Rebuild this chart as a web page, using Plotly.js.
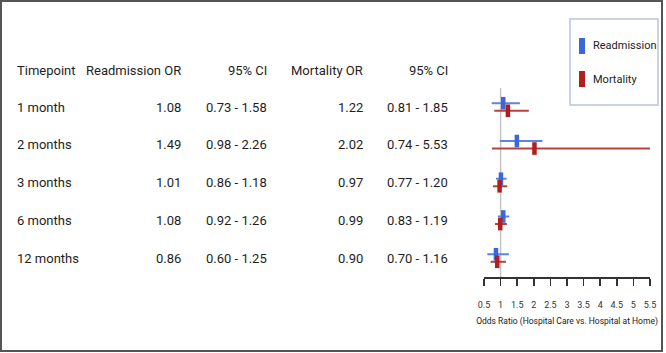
<!DOCTYPE html>
<html>
<head>
<meta charset="utf-8">
<script src="https://cdn.plot.ly/plotly-3.0.1.min.js"></script>
<style>
  html, body { margin: 0; padding: 0; background: #fff; }
  #chart { width: 666px; height: 353px; }
</style>
</head>
<body>
<div id="chart"></div>
<script>
// Odds ratios (hospital care vs. hospital at home) by follow-up timepoint
const timepoints = ['1 month', '2 months', '3 months', '6 months', '12 months'];
const readmOR = [1.08, 1.49, 1.01, 1.08, 0.86];
const readmLo = [0.73, 0.98, 0.86, 0.92, 0.60];
const readmHi = [1.58, 2.26, 1.18, 1.26, 1.25];
const mortOR = [1.22, 2.02, 0.97, 0.99, 0.90];
const mortLo = [0.81, 0.74, 0.77, 0.83, 0.70];
const mortHi = [1.85, 5.53, 1.20, 1.19, 1.16];
const seriesNames = ['Readmission', 'Mortality'];
const tickVals = [0.5, 1, 1.5, 2, 2.5, 3, 3.5, 4, 4.5, 5, 5.5];
const tickText = ['0.5', '1', '1.5', '2', '2.5', '3', '3.5', '4', '4.5', '5', '5.5'];
const headers = ['Timepoint', 'Readmission OR', '95% CI', 'Mortality OR', '95% CI'];

const W = 666, H = 353;
const FONT = 'Roboto, "Liberation Sans", sans-serif';
const BLUE = '#3b67d9', BLUE_LINE = '#5b85e3';
const RED = '#b01e1e', RED_LINE = '#b9403f';
const px = v => v / W;          // horizontal pixel -> paper fraction
const py = v => 1 - v / H;      // vertical pixel (from top) -> paper fraction

const rows = timepoints.map((_, i) => i);
const offset = 0.1;

function ciTrace(name, or, lo, hi, dy, marker, line) {
  return {
    type: 'scatter', mode: 'markers', name: name,
    x: or, y: rows.map(r => r + dy),
    showlegend: false,
    marker: { symbol: 'line-ns', size: 9, color: marker, line: { width: 4.5, color: marker } },
    error_x: {
      type: 'data', symmetric: false,
      array: hi.map((h, i) => h - or[i]),
      arrayminus: lo.map((l, i) => or[i] - l),
      thickness: 2, width: 0, color: line
    },
    hoverinfo: 'skip'
  };
}

const data = [
  ciTrace(seriesNames[0], readmOR, readmLo, readmHi, -offset, BLUE, BLUE_LINE),
  ciTrace(seriesNames[1], mortOR, mortLo, mortHi, offset, RED, RED_LINE)
];

// Table columns: anchor pixel and alignment
const cols = [[15, 'left'], [183, 'right'], [269, 'right'], [365, 'right'], [450, 'right']];
const fmt = v => v.toFixed(2);
const cells = timepoints.map((t, i) => [
  t, fmt(readmOR[i]), fmt(readmLo[i]) + ' - ' + fmt(readmHi[i]),
  fmt(mortOR[i]), fmt(mortLo[i]) + ' - ' + fmt(mortHi[i])
]);

const annotations = [];
const headerRow = -0.98;
function addRow(vals, yv) {
  vals.forEach((txt, c) => {
    annotations.push({
      text: txt, xref: 'paper', yref: 'y',
      x: px(cols[c][0]), y: yv,
      xanchor: cols[c][1], yanchor: 'middle',
      showarrow: false,
      font: { family: FONT, size: 13, color: '#1e1e1e' }
    });
  });
}
addRow(headers, headerRow);
cells.forEach((r, i) => addRow(r, rows[i]));

// Legend box with a colour swatch per series
const legendColors = [BLUE, RED];
const legendRows = [46, 79];
const shapes = [
  { type: 'line', xref: 'x', yref: 'y', x0: 1, x1: 1, y0: -0.5, y1: 4.503,
    line: { color: '#c4c4c4', width: 1.5 }, layer: 'below' },
  { type: 'rect', xref: 'paper', yref: 'paper',
    x0: px(1), x1: px(662), y0: py(351), y1: py(1),
    line: { color: '#555', width: 2 }, fillcolor: 'rgba(0,0,0,0)' },
  { type: 'rect', xref: 'paper', yref: 'paper',
    x0: px(570), x1: px(658), y0: py(105), y1: py(19),
    line: { color: '#b9c4df', width: 1.5 }, fillcolor: '#fff' }
];
seriesNames.forEach((name, i) => {
  shapes.push({ type: 'rect', xref: 'paper', yref: 'paper',
    x0: px(579), x1: px(585), y0: py(legendRows[i] + 8), y1: py(legendRows[i] - 8),
    line: { width: 0 }, fillcolor: legendColors[i] });
  annotations.push({ text: name, xref: 'paper', yref: 'paper',
    x: px(591), y: py(legendRows[i]), xanchor: 'left', yanchor: 'middle',
    showarrow: false, font: { family: FONT, size: 11, color: '#222' } });
});

const layout = {
  width: W, height: H,
  margin: { l: 0, r: 0, t: 0, b: 0 },
  paper_bgcolor: '#fff', plot_bgcolor: '#fff',
  font: { family: FONT, color: '#222' },
  showlegend: false,
  xaxis: {
    domain: [px(484), px(650)], range: [0.5, 5.5],
    anchor: 'y', side: 'bottom',
    showline: true, linecolor: '#333', linewidth: 1.5,
    ticks: 'outside', ticklen: 7, tickcolor: '#333', tickwidth: 1.5,
    tickvals: tickVals, ticktext: tickText,
    tickfont: { family: FONT, size: 9, color: '#333' },
    ticklabelstandoff: 12,
    showgrid: false, zeroline: false, automargin: false,
    title: { text: 'Odds Ratio (Hospital Care vs. Hospital at Home)', standoff: 9,
             font: { family: FONT, size: 8.5, color: '#222' } }
  },
  yaxis: {
    domain: [py(277), py(60)], range: [4.503, -1.245],
    visible: false, showgrid: false, zeroline: false, automargin: false
  },
  shapes: shapes,
  annotations: annotations
};

Plotly.newPlot('chart', data, layout, { staticPlot: true, displayModeBar: false });
</script>
</body>
</html>
